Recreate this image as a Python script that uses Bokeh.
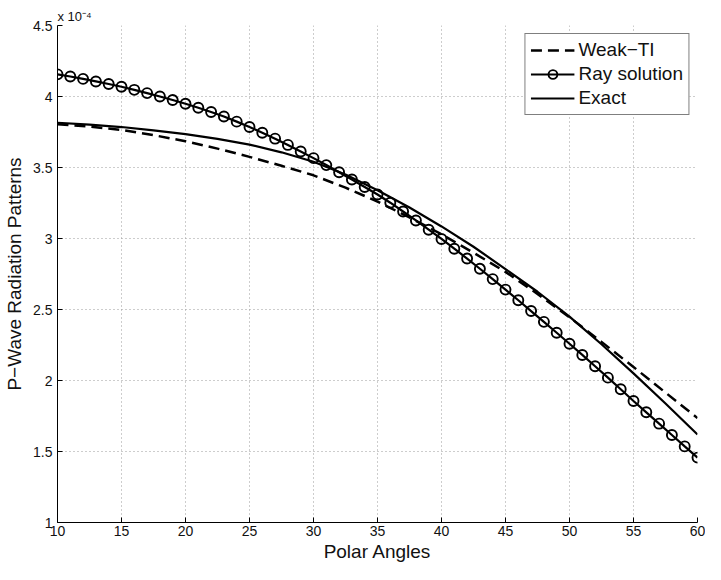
from bokeh.plotting import figure
from bokeh.models import FixedTicker, Legend, LegendItem, Range1d, Title
from bokeh.embed import file_html
from bokeh.resources import INLINE

# ---- data (values in units of 1e-4) ----
angles_ray = list(range(10, 61))
ray_solution = [
    4.156, 4.141, 4.124, 4.106, 4.088, 4.069, 4.047, 4.024, 4.000, 3.975,
    3.949, 3.921, 3.891, 3.859, 3.823, 3.785, 3.745, 3.703, 3.659, 3.613,
    3.566, 3.517, 3.467, 3.416, 3.363, 3.310, 3.252, 3.190, 3.127, 3.062,
    2.997, 2.928, 2.859, 2.787, 2.714, 2.640, 2.565, 2.489, 2.413, 2.336,
    2.259, 2.180, 2.100, 2.020, 1.938, 1.856, 1.776, 1.696, 1.616, 1.536,
    1.457,
]

angles_line = [10, 12.5, 15, 17.5, 20, 22.5, 25, 27.5, 30, 32.5, 35,
               37.5, 40, 42.5, 45, 47.5, 50, 52.5, 55, 57.5, 60]
exact = [3.815, 3.802, 3.785, 3.762, 3.735, 3.701, 3.661, 3.607, 3.540, 3.450,
         3.340, 3.218, 3.085, 2.942, 2.785, 2.625, 2.450, 2.255, 2.050, 1.838,
         1.620]
weak_ti = [3.805, 3.788, 3.765, 3.728, 3.685, 3.633, 3.575, 3.512, 3.445, 3.358,
           3.260, 3.148, 3.030, 2.900, 2.765, 2.610, 2.445, 2.272, 2.095, 1.915,
           1.735]

x_ticks = [10, 15, 20, 25, 30, 35, 40, 45, 50, 55, 60]
y_ticks = [1, 1.5, 2, 2.5, 3, 3.5, 4, 4.5]
x_title = "Polar Angles"
y_title = "P\u2212Wave Radiation Patterns"
exponent_text = "x 10\u207b\u2074"
series_names = ["Weak\u2212TI", "Ray solution", "Exact"]

FONT = "Liberation Sans"

p = figure(width=705, height=564, output_backend="svg", toolbar_location=None,
           x_range=Range1d(10, 60), y_range=Range1d(1, 4.5),
           min_border_left=57, min_border_right=8, min_border_top=25,
           min_border_bottom=38)
p.outline_line_color = None
p.background_fill_color = "white"
p.border_fill_color = "white"

# axes
for ax in (p.xaxis[0], p.yaxis[0]):
    ax.major_tick_in = 5
    ax.major_tick_out = 0
    ax.minor_tick_in = 0
    ax.minor_tick_out = 0
    ax.axis_line_color = "black"
    ax.axis_line_width = 1
    ax.major_tick_line_color = "black"
    ax.major_label_text_font = FONT
    ax.major_label_text_font_size = "14px"
    ax.major_label_text_color = "#111111"
    ax.axis_label_text_font = FONT
    ax.axis_label_text_font_size = "19px"
    ax.axis_label_text_font_style = "normal"
    ax.axis_label_text_color = "#111111"

p.xaxis.ticker = FixedTicker(ticks=x_ticks)
p.yaxis.ticker = FixedTicker(ticks=y_ticks)
p.xaxis.axis_label = x_title
p.yaxis.axis_label = y_title
p.xaxis.major_label_standoff = 3
p.yaxis.major_label_standoff = 5
p.xaxis.axis_label_standoff = 2
p.yaxis.axis_label_standoff = 5

p.grid.grid_line_color = "#9a9a9a"
p.grid.grid_line_dash = "1 3"
p.grid.grid_line_width = 1

# curves
r_weak = p.line(angles_line, weak_ti, line_color="black", line_width=2.5,
                line_dash="11 6")
r_ray_line = p.line(angles_ray, ray_solution, line_color="black", line_width=2.2)
r_ray_pts = p.scatter(angles_ray, ray_solution, marker="circle", size=10,
                      line_color="black", line_width=1.9, fill_alpha=0)
r_exact = p.line(angles_line, exact, line_color="black", line_width=2.2)

legend = Legend(items=[
    LegendItem(label=series_names[0], renderers=[r_weak]),
    LegendItem(label=series_names[1], renderers=[r_ray_line, r_ray_pts]),
    LegendItem(label=series_names[2], renderers=[r_exact]),
], location="top_right")
legend.label_text_font = FONT
legend.label_text_font_size = "19px"
legend.label_text_color = "#111111"
legend.border_line_color = "black"
legend.border_line_width = 1
legend.background_fill_color = "white"
legend.background_fill_alpha = 1
legend.glyph_width = 44
legend.glyph_height = 22
legend.label_height = 22
legend.spacing = 2
legend.padding = 5
legend.margin = 8
legend.label_standoff = 4
p.add_layout(legend)

# exponent label above the y axis
p.add_layout(Title(text=exponent_text, align="left", offset=0, standoff=4,
                   text_font=FONT, text_font_size="13px",
                   text_font_style="normal", text_color="#111111"), "above")

open("out.html", "w").write(file_html(p, INLINE))
